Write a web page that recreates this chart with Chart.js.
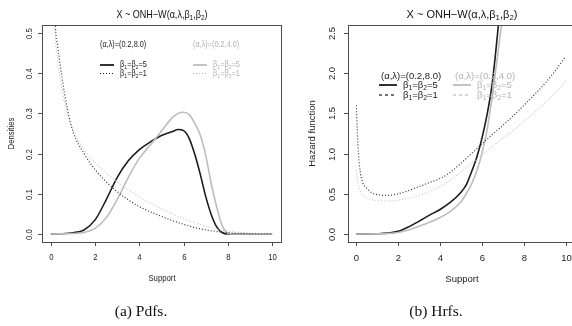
<!DOCTYPE html>
<html lang="en">
<head>
<meta charset="UTF-8">
<title>ONH-W pdfs and hrfs</title>
<style>
    html, body { margin: 0; padding: 0; background: #fff; overflow: hidden; }
    body { width: 572px; height: 326px; position: relative; }
    .panel { position: absolute; top: 0; width: 290px; height: 326px; }
    #left { left: 0; }
    #right { left: 290px; }
</style>
</head>
<body>
<div class="panel" id="left"><canvas id="pdfChart" width="290" height="326"></canvas></div>
<div class="panel" id="right"><canvas id="hrfChart" width="290" height="326"></canvas></div>
<script src="https://cdn.jsdelivr.net/npm/chart.js"></script>
<script>
// tick labels
const xTicks = [0, 2, 4, 6, 8, 10];
const pdfTicks = [0, 0.1, 0.2, 0.3, 0.4, 0.5];
const hrfTicks = [0, 0.5, 1, 1.5, 2, 2.5];

// densities, (alpha,lambda)=(0.2,8.0), beta1=beta2=5
const pdfSolid8X = [0, 0.5, 1, 1.5, 2, 2.5, 3, 3.5, 4, 4.5, 5, 5.5, 5.75, 6, 6.25, 6.5, 6.75, 7, 7.25, 7.5, 7.75, 8, 9, 10];
const pdfSolid8 = [0, 0.0005, 0.003, 0.01, 0.035, 0.085, 0.141, 0.182, 0.21, 0.229, 0.245, 0.255, 0.26, 0.257, 0.238, 0.199, 0.149, 0.093, 0.048, 0.017, 0.003, 0, 0, 0];
// densities, (0.2,4.0), beta=5
const pdfSolid4X = [0, 1, 1.5, 2, 2.5, 3, 3.5, 4, 4.5, 5, 5.5, 5.75, 6, 6.25, 6.5, 6.75, 7, 7.25, 7.5, 7.75, 8, 8.25, 9, 10];
const pdfSolid4 = [0, 0.001, 0.004, 0.014, 0.04, 0.086, 0.141, 0.188, 0.222, 0.256, 0.29, 0.3, 0.303, 0.297, 0.276, 0.246, 0.195, 0.125, 0.066, 0.02, 0.002, 0, 0, 0];
// densities, beta=1
const pdfDot8X = [0, 0.05, 0.1, 0.2, 0.3, 0.4, 0.5, 0.75, 1, 1.5, 2, 2.5, 3, 3.5, 4, 4.5, 5, 5.5, 6, 6.5, 7, 7.5, 8, 9, 10];
const pdfDot8 = [1.6, 1.1, 0.8, 0.53, 0.47, 0.43, 0.39, 0.31, 0.255, 0.2, 0.16, 0.13, 0.105, 0.085, 0.068, 0.055, 0.044, 0.033, 0.024, 0.016, 0.01, 0.006, 0.003, 0.001, 0];
const pdfDot4X = [0, 0.1, 0.2, 0.3, 0.5, 0.75, 1, 1.5, 2, 2.5, 3, 3.5, 4, 4.5, 5, 5.5, 6, 6.5, 7, 7.5, 8, 9, 10];
const pdfDot4 = [0.79, 0.6, 0.49, 0.43, 0.36, 0.3, 0.26, 0.21, 0.178, 0.152, 0.13, 0.11, 0.092, 0.077, 0.063, 0.05, 0.038, 0.028, 0.019, 0.012, 0.007, 0.002, 0];

// hazard rates
const hrfSolid8X = [0, 0.5, 1, 1.5, 2, 2.5, 3, 3.5, 4, 4.5, 5, 5.25, 5.5, 5.75, 6, 6.25, 6.5, 6.75, 7];
const hrfSolid8 = [0, 0, 0.002, 0.01, 0.032, 0.088, 0.16, 0.235, 0.305, 0.395, 0.52, 0.61, 0.77, 0.95, 1.19, 1.49, 1.89, 2.5, 3.2];
const hrfSolid4X = [0, 1, 1.5, 2, 2.5, 3, 3.5, 4, 4.5, 5, 5.25, 5.5, 5.75, 6, 6.25, 6.5, 6.75, 7, 7.25];
const hrfSolid4 = [0, 0.001, 0.005, 0.018, 0.05, 0.095, 0.145, 0.205, 0.28, 0.4, 0.5, 0.62, 0.78, 1.0, 1.3, 1.73, 2.22, 2.75, 3.4];
const hrfDotX = [0, 0.05, 0.1, 0.2, 0.3, 0.5, 0.75, 1, 1.5, 2, 2.5, 3, 3.5, 4, 4.5, 5, 5.5, 6, 6.5, 7, 7.5, 8, 8.5, 9, 9.5, 10];
const hrfDot8 = [1.6, 1.25, 1.0, 0.75, 0.64, 0.57, 0.51, 0.49, 0.48, 0.5, 0.54, 0.59, 0.64, 0.69, 0.77, 0.88, 1.0, 1.12, 1.24, 1.35, 1.47, 1.6, 1.73, 1.87, 2.03, 2.21];
const hrfDot4 = [0.79, 0.68, 0.6, 0.53, 0.49, 0.45, 0.425, 0.415, 0.41, 0.42, 0.445, 0.48, 0.53, 0.59, 0.67, 0.77, 0.88, 0.98, 1.09, 1.19, 1.29, 1.4, 1.51, 1.63, 1.76, 1.9];

const BLACK = '#1c1c1c';
const GRAY = '#bdbdbd';
const SANS = '"Liberation Sans", Arial, sans-serif';
const SERIF = '"Liberation Serif", "DejaVu Serif", serif';
const TITLE = 'X ~ ONH\u2212W(\u03b1,\u03bb,\u03b2_1,\u03b2_2)';

function pts(xs, ys) { return xs.map((x, i) => ({ x: x, y: ys[i] })); }

function series(xs, ys, color, dotted) {
    return {
        data: pts(xs, ys),
        borderColor: color,
        borderWidth: dotted ? 1.2 : 1.6,
        borderDash: dotted ? [1, 2] : [],
        cubicInterpolationMode: 'monotone',
        pointRadius: 0,
        fill: false
    };
}

// text with _1 style subscripts
function richParts(str) {
    const parts = [];
    const re = /_(\d)/g;
    let last = 0, m;
    while ((m = re.exec(str))) {
        if (m.index > last) parts.push({ t: str.slice(last, m.index), sub: false });
        parts.push({ t: m[1], sub: true });
        last = re.lastIndex;
    }
    if (last < str.length) parts.push({ t: str.slice(last), sub: false });
    return parts;
}

function drawRich(ctx, str, x, y, size, opts) {
    opts = opts || {};
    const family = opts.family || SANS;
    const sx = opts.sx || 1;
    const parts = richParts(str);
    const fontFor = p => (p.sub ? size * 0.72 : size) + 'px ' + family;
    let w = 0;
    parts.forEach(p => { ctx.font = fontFor(p); w += ctx.measureText(p.t).width; });
    ctx.save();
    ctx.translate(x, y);
    if (opts.rotate) ctx.rotate(opts.rotate);
    ctx.scale(sx, 1);
    ctx.fillStyle = opts.color || '#222';
    ctx.textAlign = 'left';
    ctx.textBaseline = 'middle';
    let cx = opts.align === 'left' ? 0 : -w / 2;
    parts.forEach(p => {
        ctx.font = fontFor(p);
        ctx.fillText(p.t, cx, p.sub ? size * 0.3 : 0);
        cx += ctx.measureText(p.t).width;
    });
    ctx.restore();
}

function seg(ctx, x1, y1, x2, y2, color, width, dash) {
    ctx.save();
    ctx.strokeStyle = color;
    ctx.lineWidth = width;
    ctx.setLineDash(dash || []);
    ctx.beginPath();
    ctx.moveTo(x1, y1);
    ctx.lineTo(x2, y2);
    ctx.stroke();
    ctx.restore();
}

function panelPlugin(cfg) {
    return {
        id: 'rPanel',
        afterDraw(chart) {
            const ctx = chart.ctx;
            const a = chart.chartArea;
            const xs = chart.scales.x, ys = chart.scales.y;
            ctx.save();
            ctx.strokeStyle = '#4d4d4d';
            ctx.lineWidth = 1;
            ctx.strokeRect(Math.round(a.left) + 0.5, Math.round(a.top) + 0.5,
                Math.round(a.right - a.left), Math.round(a.bottom - a.top));
            ctx.restore();
            const fs = cfg.tickSize, sx = cfg.sx;
            xTicks.forEach(v => {
                const px = Math.round(xs.getPixelForValue(v)) + 0.5;
                seg(ctx, px, a.bottom, px, a.bottom + 4, '#4d4d4d', 1);
                drawRich(ctx, String(v), px, a.bottom + 16, fs, { sx: sx });
            });
            cfg.yTicks.forEach(v => {
                const py = Math.round(ys.getPixelForValue(v)) + 0.5;
                seg(ctx, a.left - 4, py, a.left, py, '#4d4d4d', 1);
                drawRich(ctx, v.toFixed(1), a.left - cfg.yLabOff, py, fs, { sx: sx, rotate: -Math.PI / 2 });
            });
            drawRich(ctx, TITLE, cfg.titleX, 15, cfg.titleSize, { sx: sx, color: '#111' });
            drawRich(ctx, 'Support', cfg.titleX, 279, fs, { sx: sx });
            drawRich(ctx, cfg.yLabel, cfg.yLabelX, (a.top + a.bottom) / 2, fs, { sx: sx, rotate: -Math.PI / 2 });
            drawRich(ctx, cfg.caption, cfg.captionX, 312, 15.5, { family: SERIF, color: '#111' });
            // legend
            const L = cfg.legend;
            [[L.x1, BLACK, '#222', '(0.2,8.0)'], [L.x2, GRAY, '#b4b4b4', '(0.2,4.0)']].forEach(g => {
                const x0 = g[0];
                drawRich(ctx, '(\u03b1,\u03bb)=' + g[3], x0 + L.hOff, L.yh, L.size, { sx: sx, color: g[2], align: 'left' });
                seg(ctx, x0, L.y1, x0 + L.len, L.y1, g[1], 1.8);
                drawRich(ctx, '\u03b2_1=\u03b2_2=5', x0 + L.tOff, L.y1, L.size, { sx: sx, color: g[2], align: 'left' });
                seg(ctx, x0, L.y2, x0 + L.len, L.y2, g[1], 1.2, L.dash);
                drawRich(ctx, '\u03b2_1=\u03b2_2=1', x0 + L.tOff, L.y2, L.size, { sx: sx, color: g[2], align: 'left' });
            });
        }
    };
}

function makePanel(id, datasets, yMin, yMax, pad, cfg) {
    return new Chart(document.getElementById(id), {
        type: 'line',
        data: { datasets: datasets },
        options: {
            responsive: false,
            animation: false,
            layout: { padding: pad },
            plugins: { legend: { display: false }, tooltip: { enabled: false } },
            scales: {
                x: { type: 'linear', display: false, min: -0.4, max: 10.4 },
                y: { type: 'linear', display: false, min: yMin, max: yMax }
            }
        },
        plugins: [panelPlugin(cfg)]
    });
}

makePanel('pdfChart', [
    series(pdfDot4X, pdfDot4, '#c8c8c8', true),
    series(pdfDot8X, pdfDot8, '#333', true),
    series(pdfSolid4X, pdfSolid4, GRAY, false),
    series(pdfSolid8X, pdfSolid8, BLACK, false)
], -0.02, 0.52, { left: 42, top: 25, right: 9, bottom: 84 }, {
    yTicks: pdfTicks, tickSize: 9, sx: 0.86, yLabOff: 12,
    titleX: 162, titleSize: 10.5, yLabel: 'Densities', yLabelX: 12,
    caption: '(a) Pdfs.', captionX: 141,
    legend: { x1: 100, x2: 193, len: 14, hOff: 0, tOff: 20, yh: 45, y1: 65, y2: 73.5, size: 8.5, dash: [1, 2] }
});

makePanel('hrfChart', [
    series(hrfDotX, hrfDot4, '#c8c8c8', true),
    series(hrfDotX, hrfDot8, '#333', true),
    series(hrfSolid4X, hrfSolid4, GRAY, false),
    series(hrfSolid8X, hrfSolid8, BLACK, false)
], -0.1, 2.6, { left: 58, top: 25, right: 6, bottom: 84 }, {
    yTicks: hrfTicks, tickSize: 9.5, sx: 1, yLabOff: 16,
    titleX: 172, titleSize: 11, yLabel: 'Hazard function', yLabelX: 22,
    caption: '(b) Hrfs.', captionX: 146,
    legend: { x1: 89, x2: 163, len: 18, hOff: 2, tOff: 24, yh: 76, y1: 85, y2: 95, size: 9.5, dash: [3, 3] }
});
</script>
</body>
</html>
